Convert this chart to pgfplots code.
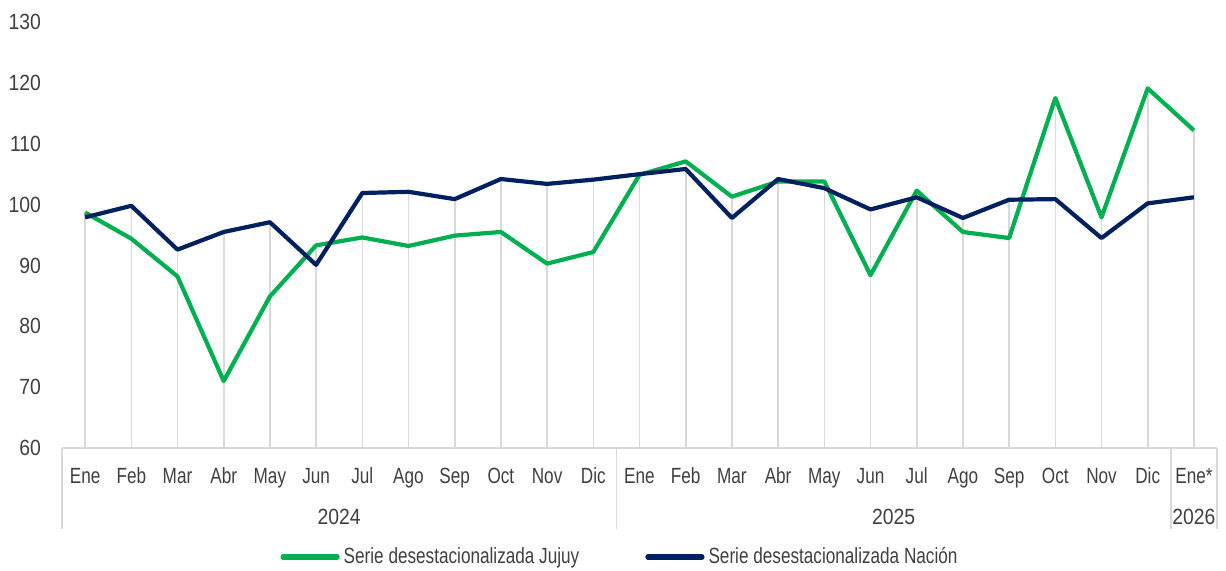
\documentclass[border=0pt]{standalone}
\usepackage{fontspec}
\setmainfont{Liberation Sans}[FakeStretch=0.78]
\newfontfamily\numfont{Liberation Sans}[FakeStretch=0.88]
\usepackage{pgfplots}
\pgfplotsset{compat=1.18}
\usepackage{pgfplotstable}
\definecolor{jgreen}{HTML}{00B050}
\definecolor{nnavy}{HTML}{002060}
\definecolor{gridg}{HTML}{D9D9D9}
\definecolor{txt}{HTML}{404040}

\pgfplotstableread{
x j n
0 98.7 97.9
1 94.4 99.8
2 88.2 92.6
3 71.0 95.5
4 84.9 97.1
5 93.3 90.1
6 94.6 101.9
7 93.2 102.1
8 94.9 100.9
9 95.5 104.2
10 90.3 103.4
11 92.2 104.1
12 104.9 105.0
13 107.1 105.85
14 101.3 97.8
15 103.8 104.2
16 103.8 102.7
17 88.4 99.2
18 102.3 101.2
19 95.5 97.8
20 94.5 100.8
21 117.5 100.9
22 97.9 94.5
23 119.1 100.2
24 112.2 101.2
}\data

\begin{document}
\begin{tikzpicture}[font=\fontsize{11pt}{13pt}\selectfont, text=txt]
\path[use as bounding box] (-31pt,-61pt) rectangle (582pt,224pt);
\begin{axis}[
  at={(0,0)}, anchor=south west,
  scale only axis, width=577.5pt, height=213pt,
  xmin=-0.5, xmax=24.5, ymin=60, ymax=130,
  ytick={60,70,...,130},
  xtick={0,...,24},
  xticklabels={Ene,Feb,Mar,Abr,May,Jun,Jul,Ago,Sep,Oct,Nov,Dic,Ene,Feb,Mar,Abr,May,Jun,Jul,Ago,Sep,Oct,Nov,Dic,Ene*},
  axis line style={draw=none},
  major tick length=0pt,
  tick style={draw=none},
  /pgf/number format/assume math mode=true,
  ticklabel style={font=\fontsize{11pt}{13pt}\selectfont, text=txt},
  yticklabel style={font=\numfont\fontsize{11pt}{13pt}\selectfont, xshift=-7pt},
  xticklabel style={anchor=base, yshift=-17.5pt},
  legend style={at={(0.484,0)}, anchor=center, yshift=-54.5pt, draw=none, fill=none,
    legend columns=2, font=\fontsize{11pt}{13pt}\selectfont, text=txt,
    /tikz/every even column/.append style={column sep=31pt},
    /tikz/every odd column/.append style={inner xsep=1pt}},
  legend image code/.code={\draw[#1, line width=2.6pt, line cap=round] (0pt,0pt) -- (27pt,0pt);},
]
\addplot[ycomb, draw=gridg, line width=0.8pt, forget plot] table[x=x, y=j] {\data};
\addplot[ycomb, draw=gridg, line width=0.8pt, forget plot] table[x=x, y=n] {\data};
\addplot[jgreen, line width=2.1pt, line join=round, mark=none] table[x=x, y=j] {\data};
\addlegendentry{Serie desestacionalizada Jujuy}
\addplot[nnavy, line width=2.1pt, line join=round, mark=none] table[x=x, y=n] {\data};
\addlegendentry{Serie desestacionalizada Nación}
\end{axis}
\draw[gridg, line width=0.8pt] (0pt,0pt) -- (577.5pt,0pt);
\foreach \xx in {0,277.2,554.4,577.5} {\draw[gridg, line width=0.8pt] (\xx pt,0pt) -- (\xx pt,-40.5pt);}
\node[font=\numfont\fontsize{11pt}{13pt}\selectfont] at (138.6pt,-34.5pt) {2024};
\node[font=\numfont\fontsize{11pt}{13pt}\selectfont] at (415.8pt,-34.5pt) {2025};
\node[font=\numfont\fontsize{11pt}{13pt}\selectfont] at (565.95pt,-34.5pt) {2026};
\end{tikzpicture}
\end{document}
